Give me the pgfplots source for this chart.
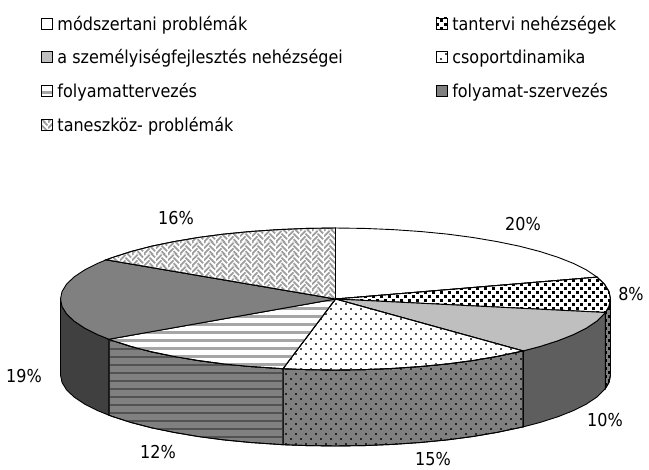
\documentclass[border=0pt]{standalone}
\usepackage{pgfplots}
\pgfplotsset{compat=1.18}
\usepackage{fontspec}
\setmainfont{DejaVu Sans Condensed}
\usetikzlibrary{patterns}
\pgfdeclarepatternformonly{bigdots}{\pgfqpoint{-1bp}{-1bp}}{\pgfqpoint{9bp}{9bp}}{\pgfqpoint{8bp}{8bp}}{%
  \pgfpathrectangle{\pgfqpoint{0bp}{0bp}}{\pgfqpoint{2.9bp}{2.9bp}}%
  \pgfpathrectangle{\pgfqpoint{4bp}{4bp}}{\pgfqpoint{2.9bp}{2.9bp}}%
  \pgfusepath{fill}}
\pgfdeclarepatternformonly{smalldots}{\pgfqpoint{-1bp}{-1bp}}{\pgfqpoint{11bp}{11bp}}{\pgfqpoint{10bp}{10bp}}{%
  \pgfpathrectangle{\pgfqpoint{0bp}{0bp}}{\pgfqpoint{1.9bp}{1.9bp}}%
  \pgfpathrectangle{\pgfqpoint{5bp}{5bp}}{\pgfqpoint{1.9bp}{1.9bp}}%
  \pgfusepath{fill}}
\pgfdeclarepatternformonly{hstripes}{\pgfqpoint{0bp}{-1bp}}{\pgfqpoint{8bp}{9bp}}{\pgfqpoint{8bp}{8bp}}{%
  \pgfpathrectangle{\pgfqpoint{0bp}{0bp}}{\pgfqpoint{8bp}{3bp}}%
  \pgfusepath{fill}}
\pgfdeclarepatternformonly{thinstripes}{\pgfqpoint{0bp}{-1bp}}{\pgfqpoint{8bp}{9bp}}{\pgfqpoint{8bp}{8bp}}{%
  \pgfpathrectangle{\pgfqpoint{0bp}{0bp}}{\pgfqpoint{8bp}{2bp}}%
  \pgfusepath{fill}}
\pgfdeclarepatternformonly{weave}{\pgfqpoint{0bp}{0bp}}{\pgfqpoint{12bp}{12bp}}{\pgfqpoint{12bp}{12bp}}{%
  \pgfsetlinewidth{1.9bp}%
  \pgfpathmoveto{\pgfqpoint{0bp}{-6bp}}\pgfpathlineto{\pgfqpoint{6bp}{0bp}}%
  \pgfpathmoveto{\pgfqpoint{0bp}{0bp}}\pgfpathlineto{\pgfqpoint{6bp}{6bp}}%
  \pgfpathmoveto{\pgfqpoint{0bp}{6bp}}\pgfpathlineto{\pgfqpoint{6bp}{12bp}}%
  \pgfpathmoveto{\pgfqpoint{0bp}{12bp}}\pgfpathlineto{\pgfqpoint{6bp}{18bp}}%
  \pgfpathmoveto{\pgfqpoint{6bp}{3bp}}\pgfpathlineto{\pgfqpoint{12bp}{-3bp}}%
  \pgfpathmoveto{\pgfqpoint{6bp}{9bp}}\pgfpathlineto{\pgfqpoint{12bp}{3bp}}%
  \pgfpathmoveto{\pgfqpoint{6bp}{15bp}}\pgfpathlineto{\pgfqpoint{12bp}{9bp}}%
  \pgfpathmoveto{\pgfqpoint{6bp}{21bp}}\pgfpathlineto{\pgfqpoint{12bp}{15bp}}%
  \pgfusepath{stroke}}
\begin{document}
\begin{tikzpicture}
\path[use as bounding box] (0,0) rectangle (649bp,470bp);
\begin{axis}[
  at={(0,0)},anchor=south west,
  scale only axis,width=649bp,height=470bp,
  xmin=0,xmax=649,ymin=0,ymax=470,y dir=reverse,
  hide axis,clip=false,
  legend columns=2,
  area legend,
  legend image code/.code={\draw[#1,line width=0.5bp] (0bp,-5bp) rectangle (11bp,6bp);},
  legend style={draw=none,fill=none,at={(axis cs:41,14)},anchor=north west,
    font=\fontsize{17.8bp}{20bp}\selectfont,
    inner sep=0pt,outer sep=0pt,
    row sep=14bp,
    /tikz/column 1/.style={column sep=3bp},
    /tikz/column 3/.style={column sep=3bp},
    /tikz/column 2/.style={column sep=91bp},
    cells={anchor=west}},
  every axis plot/.append style={line width=0.9bp,draw=black},
]
% sides
\addplot[forget plot,fill=gray!100,postaction={pattern=bigdots,pattern color=black}] coordinates {(610.5,299)(609.0,306.4)(605.4,312.5)(605.4,388.5)(609.0,382.4)(610.5,375)} --cycle;
\addplot[forget plot,fill=black!63] coordinates {(605.4,312.5)(597.1,320.9)(586.7,327.9)(573.7,334.5)(558.0,340.7)(539.9,346.5)(523.1,350.9)(523.1,426.9)(539.9,422.5)(558.0,416.7)(573.7,410.5)(586.7,403.9)(597.1,396.9)(605.4,388.5)} --cycle;
\addplot[forget plot,fill=black!50,postaction={pattern=smalldots,pattern color=black!85}] coordinates {(523.1,350.9)(497.1,356.4)(473.0,360.5)(447.3,363.9)(420.5,366.5)(392.7,368.4)(364.2,369.6)(335.5,370)(306.8,369.6)(283.0,368.7)(283.0,444.7)(306.8,445.6)(335.5,446)(364.2,445.6)(392.7,444.4)(420.5,442.5)(447.3,439.9)(473.0,436.5)(497.1,432.4)(523.1,426.9)} --cycle;
\addplot[forget plot,fill=black!50,postaction={pattern=thinstripes,pattern color=black!68}] coordinates {(283.0,368.7)(250.5,366.5)(223.7,363.9)(198.0,360.5)(173.9,356.4)(151.5,351.8)(131.1,346.5)(113.0,340.7)(108.9,339.2)(108.9,415.2)(113.0,416.7)(131.1,422.5)(151.5,427.8)(173.9,432.4)(198.0,436.5)(223.7,439.9)(250.5,442.5)(283.0,444.7)} --cycle;
\addplot[forget plot,fill=black!75] coordinates {(108.9,339.2)(97.3,334.5)(84.3,327.9)(73.9,320.9)(66.5,313.8)(62.0,306.4)(60.5,299)(60.5,375)(62.0,382.4)(66.5,389.8)(73.9,396.9)(84.3,403.9)(97.3,410.5)(108.9,415.2)} --cycle;
% tops
\addplot[fill=white] coordinates {(335.5,299)(335.5,228)(364.2,228.4)(392.7,229.6)(420.5,231.5)(447.3,234.1)(473.0,237.5)(497.1,241.6)(519.5,246.2)(539.9,251.5)(558.0,257.3)(573.7,263.5)(586.7,270.1)(597.1,277.1)} --cycle;
\addlegendentry{módszertani problémák}
\addplot[fill=white,postaction={pattern=bigdots,pattern color=black}] coordinates {(335.5,299)(597.1,277.1)(604.5,284.2)(609.0,291.6)(610.5,299)(609.0,306.4)(605.4,312.5)} --cycle;
\addlegendentry{tantervi nehézségek}
\addplot[fill=black!25] coordinates {(335.5,299)(605.4,312.5)(597.1,320.9)(586.7,327.9)(573.7,334.5)(558.0,340.7)(539.9,346.5)(523.1,350.9)} --cycle;
\addlegendentry{a személyiségfejlesztés nehézségei}
\addplot[fill=white,postaction={pattern=smalldots,pattern color=black!70}] coordinates {(335.5,299)(523.1,350.9)(497.1,356.4)(473.0,360.5)(447.3,363.9)(420.5,366.5)(392.7,368.4)(364.2,369.6)(335.5,370)(306.8,369.6)(283.0,368.7)} --cycle;
\addlegendentry{csoportdinamika}
\addplot[fill=white,postaction={pattern=hstripes,pattern color=black!35}] coordinates {(335.5,299)(283.0,368.7)(250.5,366.5)(223.7,363.9)(198.0,360.5)(173.9,356.4)(151.5,351.8)(131.1,346.5)(113.0,340.7)(108.9,339.2)} --cycle;
\addlegendentry{folyamattervezés}
\addplot[fill=black!50] coordinates {(335.5,299)(108.9,339.2)(97.3,334.5)(84.3,327.9)(73.9,320.9)(66.5,313.8)(62.0,306.4)(60.5,299)(62.0,291.6)(66.5,284.2)(73.9,277.1)(84.3,270.1)(97.3,263.5)(106.2,259.8)} --cycle;
\addlegendentry{folyamat-szervezés}
\addplot[fill=white,postaction={pattern=weave,pattern color=black!38}] coordinates {(335.5,299)(106.2,259.8)(113.0,257.3)(131.1,251.5)(151.5,246.2)(173.9,241.6)(198.0,237.5)(223.7,234.1)(250.5,231.5)(278.3,229.6)(306.8,228.4)(335.5,228)} --cycle;
\addlegendentry{taneszköz- problémák}
% percentage labels
\begin{scope}[every node/.style={font=\fontsize{17.8bp}{20bp}\selectfont,text=black}]
\node at (axis cs:523,224) {20\%};
\node at (axis cs:631,294) {8\%};
\node at (axis cs:605,420) {10\%};
\node at (axis cs:433,459.5) {15\%};
\node at (axis cs:158,452) {12\%};
\node at (axis cs:24,376) {19\%};
\node at (axis cs:176,218) {16\%};
\end{scope}
\end{axis}
\end{tikzpicture}
\end{document}
